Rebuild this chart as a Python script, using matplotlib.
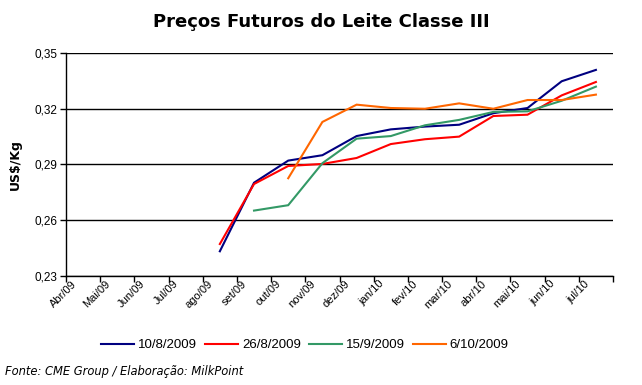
import matplotlib
matplotlib.use("Agg")
import matplotlib.pyplot as plt
import matplotlib.transforms as mtransforms
import numpy as np

categories = ["Abr/09", "Mai/09", "Jun/09", "Jul/09", "ago/09", "set/09", "out/09", "nov/09",
              "dez/09", "jan/10", "fev/10", "mar/10", "abr/10", "mai/10", "jun/10", "jul/10"]

s_10_8 = [None, None, None, None, 0.2433, 0.2802, 0.2921, 0.2950, 0.3053, 0.3089, 0.3104,
          0.3114, 0.3176, 0.3204, 0.3348, 0.3409]
s_26_8 = [None, None, None, None, 0.2472, 0.2795, 0.2892, 0.2903, 0.2935, 0.3010, 0.3036,
          0.3050, 0.3161, 0.3168, 0.3272, 0.3344]
s_15_9 = [None, None, None, None, None, 0.2652, 0.2681, 0.2907, 0.3039, 0.3053, 0.3111,
          0.3140, 0.3183, 0.3186, 0.3243, 0.3319]
s_6_10 = [None, None, None, None, None, None, 0.2826, 0.3129, 0.3222, 0.3204, 0.3200,
          0.3229, 0.3200, 0.3247, 0.3247, 0.3276]

series_labels = ["10/8/2009", "26/8/2009", "15/9/2009", "6/10/2009"]
colors = ["#000080", "#FF0000", "#339966", "#FF6600"]

yticks = [0.23, 0.26, 0.29, 0.32, 0.35]
ytick_labels = ["0,23", "0,26", "0,29", "0,32", "0,35"]

fig = plt.figure(figsize=(6.42, 3.85), dpi=100)
ax = fig.add_axes([66/642, 1-276/385, (613-66)/642, (276-53)/385])

x = np.arange(len(categories))
for data, lab, c in zip([s_10_8, s_26_8, s_15_9, s_6_10], series_labels, colors):
    y = np.array([np.nan if v is None else v for v in data], dtype=float)
    ax.plot(x, y, color=c, lw=1.5, label=lab, solid_joinstyle="miter")

ax.set_xlim(-0.5, len(categories) - 0.5)
ax.set_ylim(0.23, 0.35)
ax.set_yticks(yticks)
ax.set_yticklabels(ytick_labels, fontsize=8.5, family="Liberation Sans")
ax.yaxis.grid(True, color="black", lw=1)
ax.set_axisbelow(True)

ax.set_xticks(np.arange(len(categories) + 1) - 0.5)
ax.set_xticklabels([])
ax.set_xticks(x, minor=True)
ax.set_xticklabels(categories, minor=True, rotation=45, ha="right", va="top",
                   fontsize=8, family="Liberation Sans")
ax.tick_params(axis="x", which="minor", length=0, pad=2)
ax.tick_params(axis="x", which="major", length=4, direction="out", width=1)
ax.tick_params(axis="y", length=4, direction="out", width=1, pad=2)
offset = mtransforms.ScaledTranslation(-5/100, 0, fig.dpi_scale_trans)
for lbl in ax.xaxis.get_minorticklabels():
    lbl.set_transform(lbl.get_transform() + offset)

for s in ["top", "right"]:
    ax.spines[s].set_visible(False)
for s in ["left", "bottom"]:
    ax.spines[s].set_color("black")
    ax.spines[s].set_linewidth(1)

ax.set_ylabel("US$/Kg", fontsize=9, fontweight="bold", labelpad=9)

fig.text(0.5, 1-22/385, "Preços Futuros do Leite Classe III", ha="center", va="center",
         fontsize=13, fontweight="bold")

leg = fig.legend(loc="center", bbox_to_anchor=(305/642, 1-345/385), ncol=4, frameon=False,
                 handlelength=2.5, columnspacing=0.6, handletextpad=0.3,
                 prop={"family": "Liberation Sans", "size": 9.5})

fig.text(5/642, 1-371/385, "Fonte: CME Group / Elaboração: MilkPoint", ha="left", va="center",
         fontsize=8.3, style="italic")

fig.savefig("out.png", dpi=100, facecolor="white")
